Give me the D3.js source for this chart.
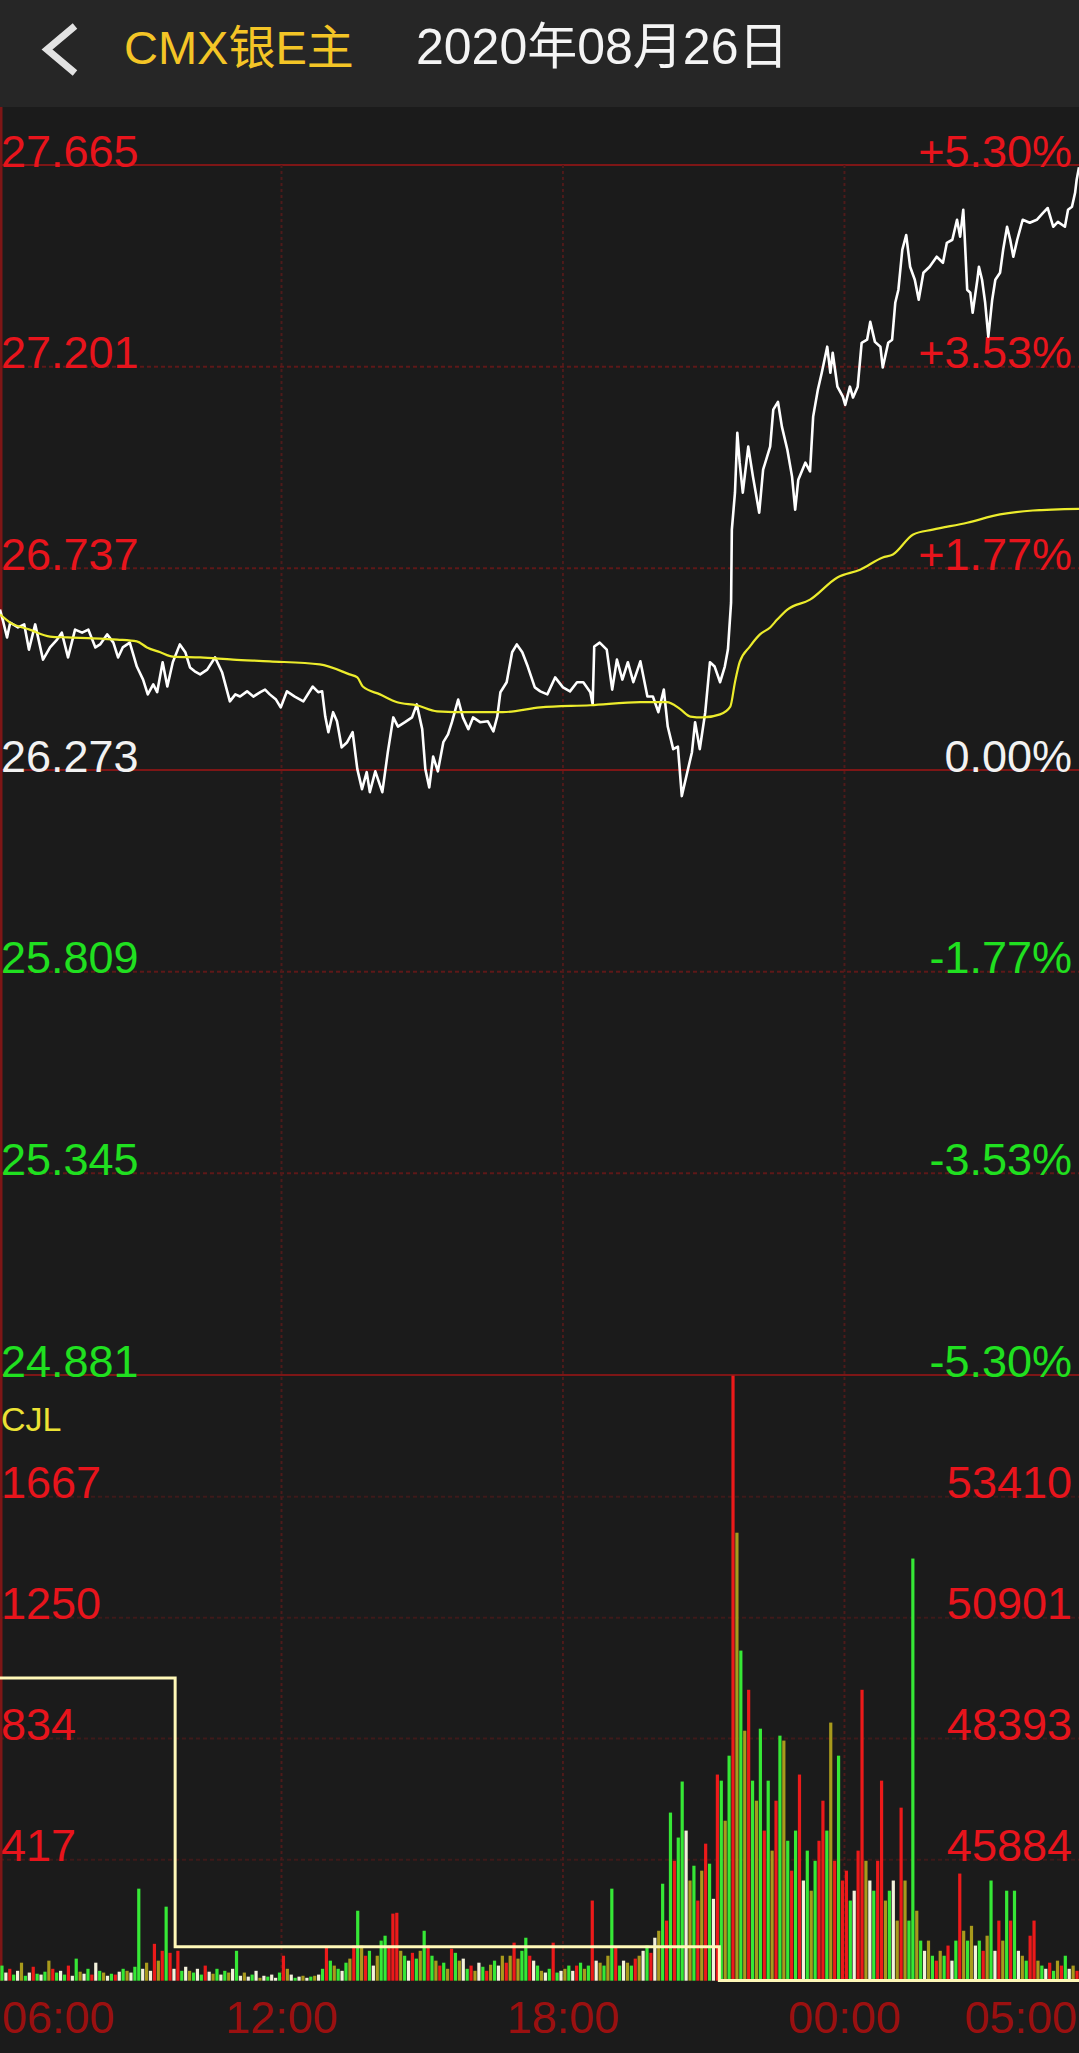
<!DOCTYPE html>
<html><head><meta charset="utf-8">
<script src="https://cdn.jsdelivr.net/npm/d3@7"></script>
<style>html,body{margin:0;padding:0;background:#1b1b1b;}svg{display:block;}</style>
</head><body><svg id="c" width="1079" height="2053"></svg>
<script>
const title = "CMX银E主";
const dateText = "2020年08月26日";
const priceTicks = [27.665, 27.201, 26.737, 26.273, 25.809, 25.345, 24.881];
const pctLabels = ["+5.30%", "+3.53%", "+1.77%", "0.00%", "-1.77%", "-3.53%", "-5.30%"];
const basePrice = 26.273;
const volTicks = [1667, 1250, 834, 417];
const oiTicks = [53410, 50901, 48393, 45884];
const volLabel = "CJL";
const timeTicks = [0, 360, 720, 1080, 1380];
const timeLabels = ["06:00", "12:00", "18:00", "00:00", "05:00"];

// minutes since 06:00
const priceTimes = [0,4,9,13,23,31,37,45,55,64,73,79,87,96,105,113,122,128,137,145,151,157,166,175,183,189,196,201,208,214,221,230,237,243,249,256,265,275,284,294,301,307,316,324,333,339,345,353,359,367,377,388,400,407,412,416,420,426,431,437,444,451,457,463,469,473,480,489,496,503,509,518,527,533,540,544,549,554,560,567,573,578,586,592,599,605,614,624,631,636,640,648,655,661,668,675,684,691,700,710,720,729,738,746,755,758,760,767,776,783,789,796,803,810,819,828,835,842,849,854,861,867,872,879,885,889,895,902,908,914,921,927,931,935,936,940,943,946,950,957,963,971,976,985,989,995,1000,1007,1013,1017,1021,1030,1036,1040,1046,1051,1058,1062,1065,1071,1078,1081,1087,1091,1097,1102,1109,1113,1119,1126,1129,1136,1141,1145,1149,1154,1159,1164,1170,1175,1181,1189,1198,1206,1211,1218,1224,1228,1232,1234,1237,1241,1244,1250,1252,1256,1260,1264,1269,1273,1279,1283,1288,1292,1296,1301,1308,1317,1326,1334,1340,1347,1353,1362,1366,1371,1375,1377,1380];
const prices = [26.642,26.615,26.578,26.612,26.601,26.608,26.550,26.608,26.527,26.555,26.573,26.589,26.532,26.596,26.589,26.596,26.555,26.562,26.585,26.566,26.532,26.555,26.566,26.511,26.481,26.447,26.470,26.452,26.521,26.465,26.521,26.562,26.544,26.509,26.500,26.493,26.504,26.532,26.498,26.431,26.447,26.442,26.454,26.442,26.452,26.458,26.447,26.435,26.417,26.454,26.442,26.431,26.465,26.452,26.454,26.396,26.360,26.406,26.385,26.325,26.337,26.360,26.275,26.229,26.268,26.222,26.270,26.222,26.314,26.394,26.373,26.383,26.394,26.424,26.367,26.275,26.233,26.304,26.270,26.337,26.355,26.383,26.435,26.394,26.367,26.394,26.383,26.385,26.362,26.396,26.452,26.475,26.544,26.562,26.544,26.511,26.463,26.454,26.447,26.486,26.463,26.454,26.475,26.475,26.452,26.424,26.557,26.566,26.550,26.458,26.527,26.481,26.521,26.475,26.523,26.442,26.442,26.406,26.458,26.373,26.321,26.327,26.213,26.268,26.314,26.383,26.321,26.406,26.521,26.511,26.475,26.511,26.550,26.658,26.826,26.911,27.049,26.980,26.911,27.017,26.948,26.865,26.964,27.017,27.102,27.120,27.063,27.010,26.948,26.872,26.941,26.980,26.960,27.086,27.148,27.187,27.247,27.187,27.233,27.155,27.132,27.113,27.155,27.130,27.155,27.256,27.263,27.304,27.258,27.247,27.199,27.256,27.263,27.348,27.378,27.470,27.504,27.431,27.401,27.355,27.417,27.431,27.454,27.440,27.486,27.493,27.539,27.500,27.562,27.493,27.378,27.371,27.325,27.401,27.431,27.401,27.348,27.270,27.355,27.401,27.417,27.470,27.523,27.493,27.454,27.493,27.539,27.532,27.539,27.555,27.566,27.523,27.534,27.523,27.562,27.569,27.601,27.631,27.660];

const avgTimes = [0,13,38,64,86,119,150,175,188,205,221,256,298,345,409,447,457,464,486,508,533,559,601,643,691,755,819,853,870,883,899,921,934,940,946,959,972,985,994,1007,1036,1071,1100,1129,1142,1168,1193,1237,1279,1321,1380];
const avgPrices = [26.631,26.612,26.596,26.580,26.578,26.576,26.573,26.569,26.555,26.544,26.534,26.532,26.527,26.523,26.516,26.493,26.486,26.465,26.447,26.429,26.422,26.408,26.406,26.406,26.417,26.422,26.429,26.429,26.413,26.396,26.394,26.401,26.419,26.475,26.521,26.557,26.585,26.601,26.619,26.642,26.665,26.716,26.734,26.762,26.769,26.815,26.826,26.842,26.861,26.870,26.874];

// volume per 5-minute bucket
const volumes = [52,28,41,21,34,62,17,28,48,24,21,31,69,41,28,34,21,52,17,76,31,24,41,21,62,34,28,17,24,21,31,41,34,28,48,317,41,62,34,127,69,103,255,96,41,103,34,48,34,28,41,21,52,31,24,41,21,34,28,41,103,17,28,14,21,34,10,17,14,21,10,28,86,41,21,10,14,17,10,14,17,21,41,114,69,52,41,34,62,76,121,241,121,86,103,52,86,138,155,121,231,234,103,86,69,96,76,103,172,121,86,69,52,62,41,110,96,69,76,41,52,34,62,48,34,55,69,52,86,62,86,131,76,103,148,86,69,52,34,28,41,131,28,34,41,52,34,52,62,41,52,276,69,62,52,86,317,114,52,69,62,52,76,86,103,121,96,148,172,334,207,579,413,493,686,517,345,396,276,379,472,403,282,710,689,551,775,2084,1543,1137,861,1002,689,620,868,517,689,448,620,844,827,482,379,517,710,345,448,310,413,482,620,517,889,413,775,345,379,276,310,448,1002,413,345,310,413,689,276,310,345,207,596,345,207,1454,241,138,103,138,86,69,103,86,121,69,138,369,172,138,189,121,138,103,155,345,103,207,138,310,207,310,103,86,69,155,207,69,52,41,62,34,69,52,86,41,52,34];
const volColors = "gwrgwogwrg" + "wgorgwgrwg" + "owgrwgowgr" + "wgowggwowr" + "orgrwrgwog" + "wgrwogwgow" + "gwowgwowgw" + "wgrowgwowg" + "owgrgogwgo" + "rgorgwoggr" + "rrogwrgogr" + "gorgorgowg" + "rowgrogwor" + "oroggrwgow" + "grgwogwrgo" + "grwogogrgw" + "ogrowgrwog" + "rgrggwogro" + "rgwrgogrog" + "orgogrgorg" + "ogrgrwgogr" + "rgorgrrgwr" + "rowgrrogwo" + "roggogwogr" + "ogrwgrogow" + "grogwrogrg" + "wogrrogwrg" + "orgwor";
const bucketMinutes = 5;

// open interest (right axis) step line
const oiTimes = [0, 224, 920, 1380];
const oiValues = [49650, 44080, 43380, 43380];

const W = 1079;
const svg = d3.select("#c");
const x = d3.scaleLinear().domain([0, 1380]).range([0, W]);
const yP = d3.scaleLinear().domain([24.881, 27.665]).range([1375, 165]);
const yV = d3.scaleLinear().domain([0, 1667]).range([1980.7, 1496.7]);
const yOI = d3.scaleLinear().domain([43375.3, 53410]).range([1980.7, 1496.7]);

const FONT = "'Liberation Sans', Arial, 'Noto Sans CJK SC', sans-serif";
const RED = "#e8141c", GREEN = "#20e020", WHITE = "#f2f2f2";
const colorMap = {r: "#ec1a1a", g: "#36e836", w: "#f4f2dc", o: "#a89a1c"};

// background
svg.append("rect").attr("width", W).attr("height", 2053).attr("fill", "#1b1b1b");
svg.append("rect").attr("width", W).attr("height", 107).attr("fill", "#262626");

// header
svg.append("polyline").attr("points", "75,26 47,49.5 75,73").attr("fill", "none")
  .attr("stroke", "#e2e2e2").attr("stroke-width", 7).attr("stroke-linejoin", "miter");
svg.append("text").attr("x", 124).attr("y", 64).attr("font-family", FONT).attr("font-size", 47)
  .attr("fill", "#f4c526").text(title);
svg.append("text").attr("x", 416).attr("y", 64).attr("font-family", FONT).attr("font-size", 50)
  .attr("fill", "#f4f4f4").text(dateText);

// grid
const g = svg.append("g");
priceTicks.forEach((p, i) => {
  const solid = (i === 0 || i === 3 || i === 6);
  g.append("line").attr("x1", 0).attr("x2", W).attr("y1", yP(p)).attr("y2", yP(p))
    .attr("stroke", solid ? "#7e1616" : "#5e1818").attr("stroke-width", 2)
    .attr("stroke-dasharray", solid ? null : "4,3");
});
volTicks.forEach(v => {
  g.append("line").attr("x1", 0).attr("x2", W).attr("y1", yV(v)).attr("y2", yV(v))
    .attr("stroke", "#3e1a1a").attr("stroke-width", 2).attr("stroke-dasharray", "4,3");
});
[360, 720, 1080].forEach(t => {
  g.append("line").attr("x1", x(t)).attr("x2", x(t)).attr("y1", 165).attr("y2", 1981)
    .attr("stroke", "#4e1a1a").attr("stroke-width", 2).attr("stroke-dasharray", "3,3");
});
g.append("line").attr("x1", 1).attr("x2", 1).attr("y1", 107).attr("y2", 1981)
  .attr("stroke", "#7e1616").attr("stroke-width", 3);

// volume bars
const bars = svg.append("g");
volumes.forEach((v, i) => {
  const cx = x(i * bucketMinutes + bucketMinutes / 2);
  const top = Math.max(yV(v), 1375);
  bars.append("rect").attr("x", cx - 1.6).attr("width", 3.2)
    .attr("y", top).attr("height", yV(0) - top)
    .attr("fill", colorMap[volColors[i]] || colorMap.g);
});

// open interest step line
svg.append("path").datum(oiTimes.map((t, i) => [t, oiValues[i]]))
  .attr("d", d3.line().x(d => x(d[0])).y(d => yOI(d[1])).curve(d3.curveStepAfter))
  .attr("fill", "none").attr("stroke", "#fff8b8").attr("stroke-width", 3);

// labels
const lab = svg.append("g").attr("font-family", FONT).attr("font-size", 45);
priceTicks.forEach((p, i) => {
  const c = p > basePrice ? RED : (p < basePrice ? GREEN : WHITE);
  lab.append("text").attr("x", 1).attr("y", yP(p) + 1.5).attr("fill", c).text(p.toFixed(3));
  lab.append("text").attr("x", 1072).attr("y", yP(p) + 1.5).attr("fill", c)
    .attr("text-anchor", "end").text(pctLabels[i]);
});
volTicks.forEach((v, i) => {
  lab.append("text").attr("x", 1).attr("y", yV(v) + 1.5).attr("fill", RED).text(v);
  lab.append("text").attr("x", 1072).attr("y", yOI(oiTicks[i]) + 1.5).attr("fill", RED)
    .attr("text-anchor", "end").text(oiTicks[i]);
});
lab.append("text").attr("x", 1).attr("y", 1431).attr("font-size", 34).attr("fill", "#ece234").text(volLabel);
timeTicks.forEach((t, i) => {
  const anchor = i === 0 ? "start" : (i === timeTicks.length - 1 ? "end" : "middle");
  const xx = i === 0 ? 2 : (i === timeTicks.length - 1 ? 1077 : x(t));
  lab.append("text").attr("x", xx).attr("y", 2033).attr("fill", "#9a1010")
    .attr("text-anchor", anchor).text(timeLabels[i]);
});

// price line & average line
svg.append("path").datum(priceTimes.map((t, i) => [t, prices[i]]))
  .attr("d", d3.line().x(d => x(d[0])).y(d => yP(d[1])))
  .attr("fill", "none").attr("stroke", "#ffffff").attr("stroke-width", 2.6).attr("stroke-linejoin", "round");
svg.append("path").datum(avgTimes.map((t, i) => [t, avgPrices[i]]))
  .attr("d", d3.line().x(d => x(d[0])).y(d => yP(d[1])).curve(d3.curveMonotoneX))
  .attr("fill", "none").attr("stroke", "#ecec2c").attr("stroke-width", 2.2);
</script></body></html>
